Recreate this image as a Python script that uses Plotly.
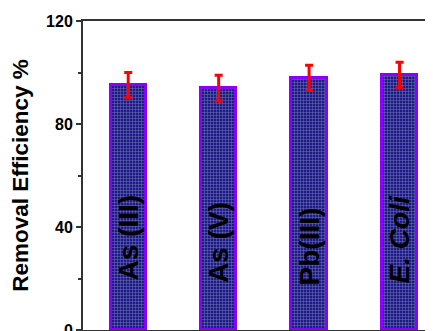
import plotly.graph_objects as go

categories = ["As (III)", "As (V)", "Pb(III)", "E. Coli"]
label_texts = ["As (III)", "As (V)", "Pb(III)", "<i>E. Coli</i>"]
values = [95.1, 93.9, 97.9, 99.0]
errors = [4.9, 5.0, 4.9, 5.0]
label_y = [36.0, 34.0, 32.5, 35.0]
y_ticks = [0, 40, 80, 120]

x = list(range(len(categories)))

fig = go.Figure()
fig.add_trace(go.Bar(
    x=x, y=values, width=0.39,
    marker=dict(
        color="#1c1c84",
        line=dict(color="#8a00ff", width=3),
        pattern=dict(shape="+", size=3, fgcolor="#c8c8ea", bgcolor="#1c1c84", solidity=0.3),
    ),
    error_y=dict(type="data", array=errors, visible=True, color="#ff0000", thickness=3, width=4),
    hoverinfo="skip",
))

for xi, t, ly in zip(x, label_texts, label_y):
    fig.add_annotation(x=xi, y=ly, text=t, textangle=-90, showarrow=False,
                       font=dict(family="Liberation Sans, Arial", size=28, color="black", weight="bold"),
                       xanchor="center", yanchor="middle")

# page body has an 8px default margin, so the figure is offset by 8px
fig.update_layout(
    width=425, height=323,
    margin=dict(l=75, r=0, t=13, b=1),
    plot_bgcolor="white", paper_bgcolor="white",
    showlegend=False,
    bargap=0,
    font=dict(family="Liberation Sans, Arial", color="black"),
)
fig.update_xaxes(range=[-0.5, 3.37], showline=True, linecolor="#333333", linewidth=2,
                 mirror=True, showticklabels=False, ticks="", showgrid=False, zeroline=False,
                 automargin=False)
fig.update_yaxes(range=[0, 120], tickvals=y_ticks, showline=True, linecolor="#333333", linewidth=2,
                 ticks="outside", ticklen=5, tickwidth=2, tickcolor="#333333",
                 minor=dict(tickvals=[20, 60, 100], ticks="outside", ticklen=3, tickwidth=1.5, tickcolor="#333333"),
                 tickfont=dict(size=16, weight="bold", family="Liberation Sans, Arial"),
                 ticklabeloverflow="allow",
                 showgrid=False, zeroline=False, automargin=False,
                 title=dict(text="Removal Efficiency %", font=dict(size=22.5, weight="bold", family="Liberation Sans, Arial"),
                            standoff=14))

fig.write_html("out.html")
